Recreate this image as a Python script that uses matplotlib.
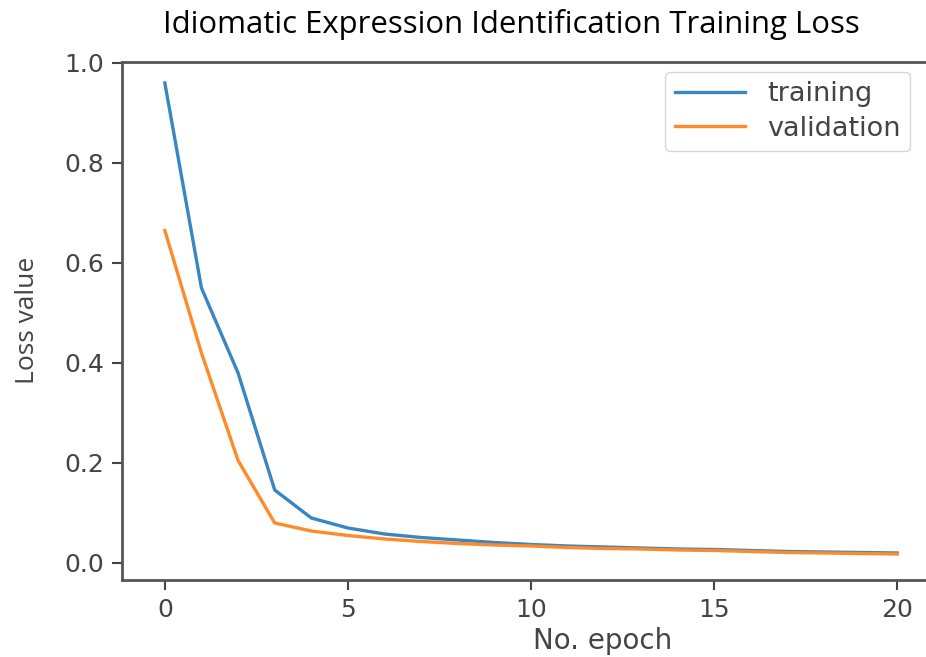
import matplotlib
matplotlib.use("Agg")
import matplotlib.pyplot as plt

# loss values
epochs = list(range(21))
training = [0.96, 0.55, 0.38, 0.146, 0.09, 0.07, 0.058, 0.051, 0.046, 0.041, 0.037,
            0.034, 0.032, 0.03, 0.028, 0.027, 0.025, 0.023, 0.022, 0.021, 0.02]
validation = [0.665, 0.42, 0.205, 0.08, 0.064, 0.055, 0.048, 0.043, 0.039, 0.036, 0.034,
              0.031, 0.029, 0.028, 0.026, 0.025, 0.023, 0.021, 0.02, 0.019, 0.018]

W, H = 926, 657
fig = plt.figure(figsize=(W / 100, H / 100), dpi=100)
# axes runs past the right edge of the picture, like the cropped original
left, right, top, bottom = 122, 1084, 62, 580
ax = fig.add_axes([left / W, 1 - bottom / H, (right - left) / W, (bottom - top) / H])

grey = '#444444'
ax.plot(epochs, training, color='#3a86c0', lw=2.4, label='training')
ax.plot(epochs, validation, color='#ff8a2a', lw=2.4, label='validation')

ax.set_xlim(-1.17, 25.1)
ax.set_ylim(-0.034, 1.002)
ax.set_xticks([0, 5, 10, 15, 20])
ax.set_yticks([0.0, 0.2, 0.4, 0.6, 0.8, 1.0])
ax.tick_params(labelsize=18, colors=grey, length=7, width=1.5, pad=6)
for s in ax.spines.values():
    s.set_color('#555555')
    s.set_linewidth(2)

fig.text(603 / W, 1 - 641 / H, 'No. epoch', ha='center', va='center',
         fontsize=20, color=grey)
fig.text(27 / W, 1 - 320 / H, 'Loss value', ha='center', va='center',
         rotation=90, fontsize=19, color=grey, family='Open Sans')

fig.text(511 / W, 1 - 24 / H, 'Idiomatic Expression Identification Training Loss',
         ha='center', va='center', fontsize=22.4, color='black', family='Open Sans')

leg = ax.legend(loc='upper right', bbox_to_anchor=(910 / W, 1 - 72 / H),
                bbox_transform=fig.transFigure, fontsize=19.5, labelcolor=grey,
                handlelength=2.6, borderpad=0.35, labelspacing=0.3,
                borderaxespad=0)
leg.get_frame().set_edgecolor('#cccccc')

fig.savefig('out.png', dpi=100)
